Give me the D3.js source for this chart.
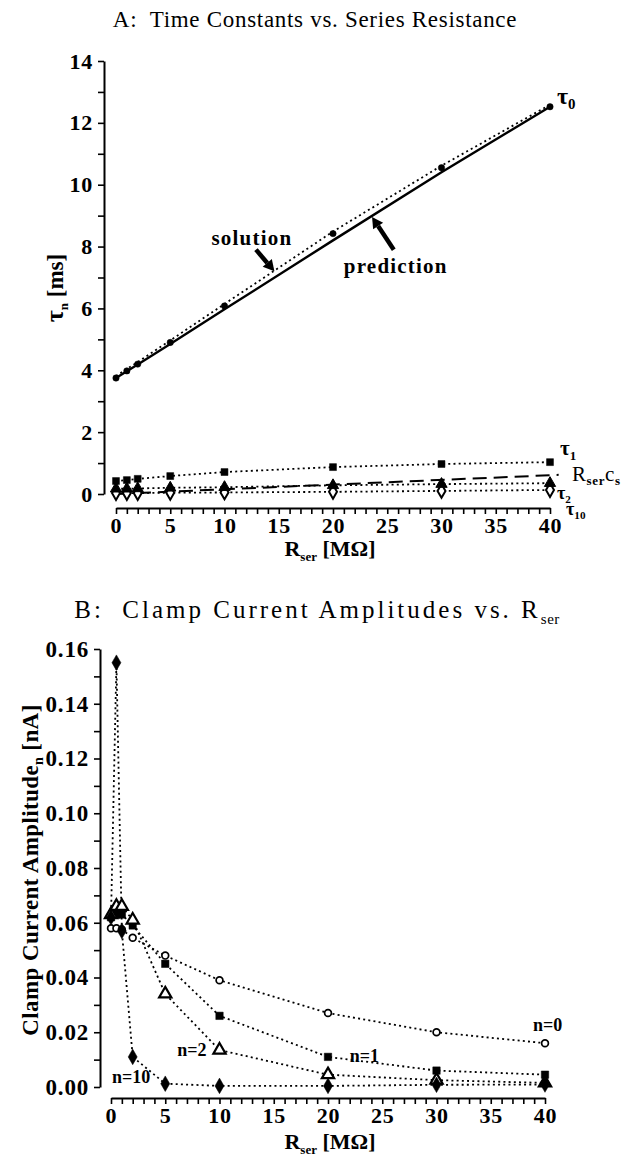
<!DOCTYPE html>
<html>
<head>
<meta charset="utf-8">
<script src="https://cdn.jsdelivr.net/npm/d3@7"></script>
<style>
body { margin: 0; background: #fff; }
text { font-family: "Liberation Serif", "Times New Roman", serif; fill: #000; white-space: pre; }
</style>
</head>
<body>
<div id="chart"></div>
<script>
// panel A data
var rserA = [0, 1, 2, 5, 10, 20, 30, 40];
var tau0 = [3.75, 3.98, 4.2, 4.9, 6.08, 8.42, 10.55, 12.52];
var tau0pred = [3.75, 3.97, 4.19, 4.85, 5.97, 8.2, 10.4, 12.52];
var tau1 = [0.42, 0.45, 0.49, 0.58, 0.71, 0.87, 0.97, 1.03];
var tau2 = [0.17, 0.17, 0.18, 0.2, 0.22, 0.28, 0.32, 0.35];
var tau10 = [0.03, 0.03, 0.03, 0.04, 0.05, 0.07, 0.1, 0.13];
var rsercsX = [0, 40.8];
var rsercsY = [0, 0.62];
var yTicksA = [0, 2, 4, 6, 8, 10, 12, 14];

// panel B data
var rserB = [0, 0.5, 1, 2, 5, 10, 20, 30, 40];
var amp0 = [0.058, 0.058, 0.0575, 0.0545, 0.048, 0.039, 0.027, 0.020, 0.016];
var amp1 = [0.062, 0.063, 0.063, 0.059, 0.045, 0.026, 0.011, 0.006, 0.0045];
var amp2 = [0.063, 0.066, 0.066, 0.061, 0.034, 0.0135, 0.0045, 0.0025, 0.0015];
var amp10 = [0.062, 0.155, 0.057, 0.011, 0.0012, 0.0004, 0.0004, 0.0008, 0.0009];
var yTicksB = [0, 0.02, 0.04, 0.06, 0.08, 0.10, 0.12, 0.14, 0.16];
var nLabels = ["n=0", "n=1", "n=2", "n=10"];
var nLabelR = [38.9, 22, 6.1, 0.1];
var nLabelV = [0.0225, 0.0112, 0.0135, 0.0035];

var W = 639, H = 1158;
var svg = d3.select("#chart").append("svg")
  .attr("width", W)
  .attr("height", H);
svg.append("rect").attr("width", W).attr("height", H).attr("fill", "#fff");

var dotted = "2,3.2";

function pairs(xs, ys) {
  return xs.map(function(d, i){ return [d, ys[i]]; });
}

function drawAxes(g, x, y, yAxisX, xAxisY, yMax, yStep, yTicks, fmt, yfs) {
  var yMinor = d3.range(0, yMax + yStep / 4, yStep / 2);
  var ya = g.append("g")
    .attr("transform", "translate(" + yAxisX + ",0)")
    .call(d3.axisLeft(y).tickValues(yMinor).tickSize(6).tickSizeOuter(0).tickPadding(5)
      .tickFormat(function(d){
        var hit = yTicks.some(function(t){ return Math.abs(t - d) < 1e-9; });
        return hit ? fmt(d) : "";
      }));
  ya.select(".domain").attr("stroke-width", 2);
  ya.selectAll(".tick line").attr("stroke-width", 1.6);
  ya.selectAll("text").attr("font-size", yfs).attr("font-weight", "bold")
    .attr("letter-spacing", 0.8).attr("font-family", "Liberation Serif");

  var xa = g.append("g")
    .attr("transform", "translate(0," + xAxisY + ")")
    .call(d3.axisBottom(x).tickValues(d3.range(0, 41, 1)).tickSize(6).tickSizeOuter(0).tickPadding(3)
      .tickFormat(function(d){ return d % 5 === 0 ? d : ""; }));
  xa.select(".domain").attr("stroke-width", 2);
  xa.selectAll(".tick line").attr("stroke-width", 1.6);
  xa.selectAll("text").attr("font-size", 22).attr("font-weight", "bold")
    .attr("letter-spacing", 0.8).attr("font-family", "Liberation Serif");
}

function rserTitle(g, cx, by) {
  var t = g.append("text").attr("x", cx).attr("y", by)
    .attr("text-anchor", "middle").attr("font-size", 22).attr("font-weight", "bold");
  t.append("tspan").text("R");
  t.append("tspan").attr("font-size", 13).attr("dy", 5).text("ser");
  t.append("tspan").attr("dy", -5).text(" [M\u03A9]");
}

// ---------------- Panel A ----------------
var xA = d3.scaleLinear().domain([0, 40]).range([116, 550]);
var yA = d3.scaleLinear().domain([0, 14]).range([494, 61]);
var gA = svg.append("g");

gA.append("text").attr("x", 315).attr("y", 27)
  .attr("text-anchor", "middle").attr("font-size", 23).attr("letter-spacing", 0.7)
  .text("A:  Time Constants vs. Series Resistance");

drawAxes(gA, xA, yA, 104, 508, 14, 2, yTicksA, function(d){ return d; }, 22);

var ytA = gA.append("text").attr("transform", "translate(63,288) rotate(-90)")
  .attr("text-anchor", "middle").attr("font-size", 23).attr("font-weight", "bold");
ytA.append("tspan").attr("font-size", 26).text("\u03C4");
ytA.append("tspan").attr("font-size", 13).attr("dy", 5).text("n");
ytA.append("tspan").attr("dy", -5).text(" [ms]");
rserTitle(gA, 330, 556);

var lineA = d3.line().x(function(d){ return xA(d[0]); }).y(function(d){ return yA(d[1]); });

gA.append("path").datum(pairs(rserA, tau0pred)).attr("d", lineA)
  .attr("fill", "none").attr("stroke", "#000").attr("stroke-width", 2.4);
gA.append("path").datum(pairs(rserA, tau0)).attr("d", lineA).attr("transform", "translate(0,-2)")
  .attr("fill", "none").attr("stroke", "#000").attr("stroke-width", 1.8).attr("stroke-dasharray", dotted);
[tau1, tau2, tau10].forEach(function(s){
  gA.append("path").datum(pairs(rserA, s)).attr("d", lineA)
    .attr("fill", "none").attr("stroke", "#000").attr("stroke-width", 1.8).attr("stroke-dasharray", dotted);
});
gA.append("path").datum(pairs(rsercsX, rsercsY)).attr("d", lineA)
  .attr("fill", "none").attr("stroke", "#000").attr("stroke-width", 2).attr("stroke-dasharray", "14,7");

function marks(g, x, y, xs, ys, type, size, filled, sw) {
  g.selectAll(null).data(pairs(xs, ys)).enter().append("path")
    .attr("transform", function(d){ return "translate(" + x(d[0]) + "," + y(d[1]) + ")"; })
    .attr("d", d3.symbol().type(type).size(size))
    .attr("fill", filled ? "#000" : "#fff")
    .attr("stroke", "#000").attr("stroke-width", sw);
}
marks(gA, xA, yA, rserA, tau10, d3.symbolDiamond, 55, false, 2);
marks(gA, xA, yA, rserA, tau2, d3.symbolTriangle, 55, true, 1);
marks(gA, xA, yA, rserA, tau1, d3.symbolSquare, 48, true, 0.5);
marks(gA, xA, yA, rserA, tau0, d3.symbolCircle, 32, true, 0.5);

function subLabel(g, px, py, main, sub, fs) {
  var t = g.append("text").attr("x", px).attr("y", py).attr("font-size", fs).attr("font-weight", "bold");
  t.append("tspan").text(main);
  t.append("tspan").attr("font-size", fs * 0.62).attr("dy", fs * 0.22).text(sub);
  return t;
}
subLabel(gA, 557, 104, "\u03C4", "0", 24);
subLabel(gA, 560, 455, "\u03C4", "1", 21);
var rc = gA.append("text").attr("x", 572).attr("y", 481).attr("font-size", 21).attr("letter-spacing", 0.6);
rc.append("tspan").text("R");
rc.append("tspan").attr("font-size", 13).attr("font-weight", "bold").attr("dy", 4).text("ser");
rc.append("tspan").attr("dy", -4).text("c");
rc.append("tspan").attr("font-size", 13).attr("font-weight", "bold").attr("dy", 4).text("s");
subLabel(gA, 557, 499, "\u03C4", "2", 18);
subLabel(gA, 566, 515, "\u03C4", "10", 18);

// annotation arrows
function arrow(g, x0, y0, x1, y1) {
  var ang = Math.atan2(y1 - y0, x1 - x0);
  var hl = 11, hw = 6;
  var bx = x1 - hl * Math.cos(ang), by = y1 - hl * Math.sin(ang);
  g.append("line").attr("x1", x0).attr("y1", y0).attr("x2", bx).attr("y2", by)
    .attr("stroke", "#000").attr("stroke-width", 4.5);
  g.append("path").attr("d", "M" + x1 + "," + y1 +
    "L" + (bx + hw * Math.sin(ang)) + "," + (by - hw * Math.cos(ang)) +
    "L" + (bx - hw * Math.sin(ang)) + "," + (by + hw * Math.cos(ang)) + "Z").attr("fill", "#000");
}
gA.append("text").attr("x", xA(8.8)).attr("y", yA(8.05)).attr("font-size", 21)
  .attr("font-weight", "bold").attr("letter-spacing", 1.2).text("solution");
arrow(gA, xA(12.9), yA(7.9), xA(14.6), yA(7.2));
gA.append("text").attr("x", xA(21)).attr("y", yA(7.15)).attr("font-size", 21)
  .attr("font-weight", "bold").attr("letter-spacing", 1.2).text("prediction");
arrow(gA, xA(25.6), yA(7.9), xA(23.6), yA(8.96));

// ---------------- Panel B ----------------
var xB = d3.scaleLinear().domain([0, 40]).range([111, 545]);
var yB = d3.scaleLinear().domain([0, 0.16]).range([1087, 649]);
var gB = svg.append("g");

var titleB = gB.append("text").attr("x", 317).attr("y", 618)
  .attr("text-anchor", "middle").attr("font-size", 25).attr("letter-spacing", 3);
titleB.append("tspan").text("B:  Clamp Current Amplitudes vs. R");
titleB.append("tspan").attr("font-size", 15).attr("dy", 6).attr("letter-spacing", 0.5).text("ser");

drawAxes(gB, xB, yB, 100, 1098, 0.16, 0.02, yTicksB, d3.format(".2f"), 23);

var ytB = gB.append("text").attr("transform", "translate(38,870) rotate(-90)")
  .attr("text-anchor", "middle").attr("font-size", 23).attr("font-weight", "bold").attr("letter-spacing", 0.4);
ytB.append("tspan").text("Clamp Current Amplitude");
ytB.append("tspan").attr("font-size", 14).attr("dy", 5).text("n");
ytB.append("tspan").attr("dy", -5).text(" [nA]");
rserTitle(gB, 330, 1149);

var lineB = d3.line().x(function(d){ return xB(d[0]); }).y(function(d){ return yB(d[1]); });
[amp0, amp1, amp2, amp10].forEach(function(s){
  gB.append("path").datum(pairs(rserB, s)).attr("d", lineB)
    .attr("fill", "none").attr("stroke", "#000").attr("stroke-width", 1.8).attr("stroke-dasharray", dotted);
});
marks(gB, xB, yB, rserB, amp0, d3.symbolCircle, 36, false, 1.7);
marks(gB, xB, yB, rserB, amp1, d3.symbolSquare, 55, true, 0.5);
marks(gB, xB, yB, rserB, amp2, d3.symbolTriangle, 65, false, 2.2);
marks(gB, xB, yB, rserB, amp10, d3.symbolDiamond, 70, true, 0.5);

nLabels.forEach(function(l, i){
  gB.append("text").attr("x", xB(nLabelR[i])).attr("y", yB(nLabelV[i]) + 6)
    .attr("font-size", 18).attr("font-weight", "bold").text(l);
});
</script>
</body>
</html>
